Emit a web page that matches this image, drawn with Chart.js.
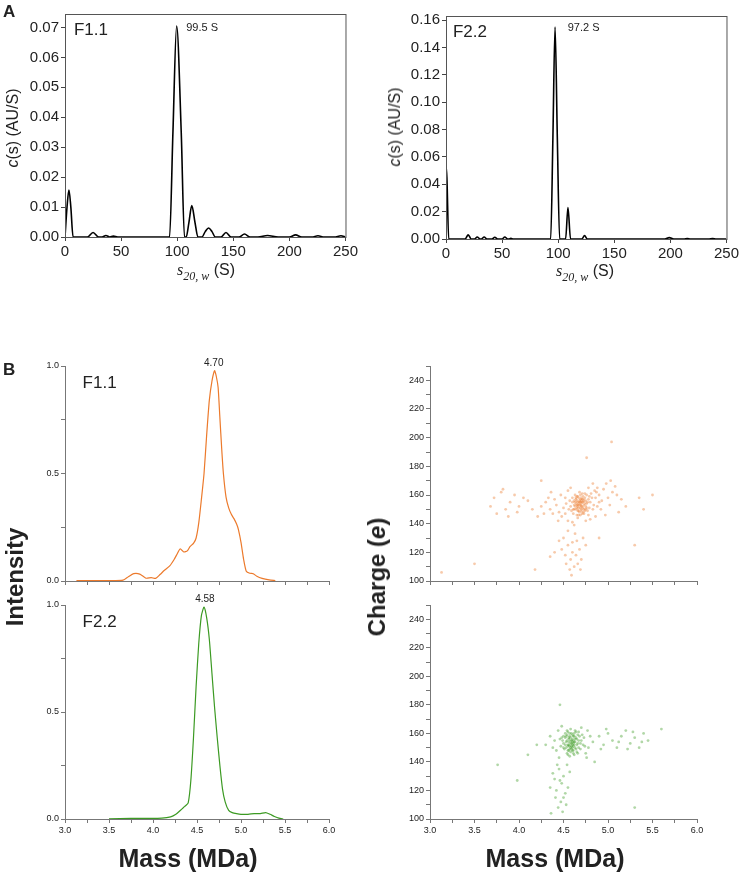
<!DOCTYPE html>
<html>
<head>
<meta charset="utf-8">
<script src="https://cdn.jsdelivr.net/npm/chart.js@4.4.0/dist/chart.umd.min.js"></script>
<style>
body { margin: 0; background: #fff; font-family: 'Liberation Sans', Arial, sans-serif; color: #222; }
#page { position: relative; width: 741px; height: 875px; overflow: hidden; }
canvas { position: absolute; }
.t { position: absolute; white-space: nowrap; line-height: 1; }
.rot { transform: translate(-50%, -50%) rotate(-90deg); }
.ctr { transform: translate(-50%, -50%); }
.sv { font-family: 'Liberation Serif', 'DejaVu Serif', serif; font-style: italic; }
.big { font-weight: bold; font-size: 24px; }
</style>
</head>
<body>
<div id="page">
  <canvas id="csF11" width="360" height="285" style="left:0;top:0"></canvas>
  <canvas id="csF22" width="371" height="285" style="left:370px;top:0"></canvas>
  <canvas id="massF11" width="360" height="240" style="left:0;top:350px"></canvas>
  <canvas id="massF22" width="360" height="285" style="left:0;top:590px"></canvas>
  <canvas id="czF11" width="381" height="240" style="left:360px;top:350px"></canvas>
  <canvas id="czF22" width="381" height="285" style="left:360px;top:590px"></canvas>

  <div class="t" style="left:3px;top:3px;font-weight:bold;font-size:17px">A</div>
  <div class="t" style="left:3px;top:361px;font-weight:bold;font-size:17px">B</div>

  <div class="t rot" style="left:13px;top:128px;font-size:16px"><i>c</i>(s) (AU/S)</div>
  <div class="t ctr" style="left:206px;top:272px;font-size:16px"><span class="sv">s</span><sub class="sv" style="font-size:12px">20, w</sub> (S)</div>
  <div class="t rot" style="left:395px;top:127px;font-size:16px"><i>c</i>(s) (AU/S)</div>
  <div class="t ctr" style="left:585px;top:273px;font-size:16px"><span class="sv">s</span><sub class="sv" style="font-size:12px">20, w</sub> (S)</div>

  <div class="t rot big" style="left:15px;top:577px">Intensity</div>
  <div class="t rot big" style="left:377px;top:577px">Charge (<i>e</i>)</div>
  <div class="t ctr big" style="left:188px;top:858px;font-size:25px">Mass (MDa)</div>
  <div class="t ctr big" style="left:555px;top:858px;font-size:25px">Mass (MDa)</div>
</div>

<script>
// c(s) distributions (sedimentation coefficient in S, c(s) in AU/S)
const sF11 = [0, 1.8, 3.5, 5.2, 7.2, 20, 25, 30, 33, 36.5, 40, 43, 47, 90, 93.2, 96.2, 99.5, 103.6, 106.5, 108, 110.5, 113, 115.8, 118.5, 122, 125, 128, 131, 134, 139, 143.5, 148, 155, 160, 165, 172, 180.5, 190, 200, 205.5, 211, 220, 225.5, 231, 240, 246, 250];
const cF11 = [0, 0.010, 0.0157, 0.010, 0, 0, 0.0015, 0, 0, 0.0005, 0, 0.0003, 0, 0, 0, 0.035, 0.0705, 0.035, 0, 0, 0.005, 0.0105, 0.005, 0, 0, 0.0018, 0.003, 0.0018, 0, 0, 0.0015, 0, 0, 0.001, 0, 0, 0.0005, 0, 0, 0.0007, 0, 0, 0.0004, 0, 0, 0.0004, 0];

const sF22 = [0, 0.8, 2.4, 17, 19.8, 22.5, 25.5, 27.8, 30.5, 31.5, 34, 36.5, 41, 43.5, 46, 50, 52.4, 55, 56, 57.8, 60, 93.3, 95.3, 97.2, 99.2, 101.3, 106.6, 108.7, 111, 121, 123.5, 126, 195, 199, 203, 212, 215, 218, 234, 237.6, 241, 250];
const cF22 = [0.053, 0.045, 0, 0, 0.003, 0, 0, 0.0015, 0, 0, 0.0015, 0, 0, 0.0013, 0, 0, 0.0015, 0, 0, 0.0005, 0, 0, 0.075, 0.155, 0.075, 0, 0, 0.023, 0, 0, 0.0025, 0, 0, 0.001, 0, 0, 0.0003, 0, 0, 0.0003, 0, 0];

// Mass spectra (MDa, normalised intensity)
const mF11 = [3.13, 3.30, 3.50, 3.66, 3.72, 3.78, 3.85, 3.92, 3.98, 4.03, 4.08, 4.13, 4.19, 4.24, 4.28, 4.31, 4.35, 4.39, 4.42, 4.46, 4.49, 4.52, 4.55, 4.58, 4.61, 4.64, 4.67, 4.70, 4.72, 4.74, 4.76, 4.78, 4.80, 4.83, 4.86, 4.89, 4.92, 4.95, 4.97, 5.00, 5.03, 5.06, 5.10, 5.14, 5.18, 5.24, 5.32, 5.39];
const iF11 = [0.002, 0.002, 0.002, 0.004, 0.02, 0.034, 0.032, 0.013, 0.016, 0.012, 0.03, 0.05, 0.07, 0.10, 0.13, 0.15, 0.135, 0.14, 0.16, 0.175, 0.20, 0.27, 0.38, 0.50, 0.68, 0.84, 0.93, 0.978, 0.95, 0.90, 0.76, 0.62, 0.50, 0.39, 0.34, 0.31, 0.29, 0.265, 0.24, 0.18, 0.10, 0.045, 0.036, 0.034, 0.022, 0.012, 0.005, 0.002];

const mF22 = [3.50, 3.75, 3.95, 4.10, 4.20, 4.26, 4.31, 4.35, 4.37, 4.40, 4.43, 4.46, 4.49, 4.52, 4.55, 4.58, 4.61, 4.64, 4.67, 4.70, 4.73, 4.76, 4.79, 4.82, 4.86, 4.90, 4.95, 5.00, 5.08, 5.15, 5.22, 5.28, 5.33, 5.38, 5.43, 5.48];
const iF22 = [0.001, 0.003, 0.003, 0.004, 0.01, 0.022, 0.04, 0.055, 0.062, 0.075, 0.18, 0.38, 0.62, 0.82, 0.95, 0.99, 0.94, 0.84, 0.68, 0.52, 0.38, 0.25, 0.14, 0.08, 0.04, 0.03, 0.025, 0.022, 0.022, 0.025, 0.025, 0.03, 0.022, 0.012, 0.004, 0];

// Charge vs mass single-particle points [MDa, e]
const czF11 = [
  [4.62,150],[4.65,153],[4.68,156],[4.70,152],[4.72,155],[4.66,149],[4.74,158],[4.69,160],[4.71,147],[4.64,157],
  [4.67,151],[4.73,150],[4.76,154],[4.60,155],[4.63,160],[4.78,157],[4.70,154],[4.68,148],[4.75,152],[4.66,155],
  [4.72,159],[4.59,149],[4.80,155],[4.65,146],[4.71,157],[4.69,151],[4.62,153],[4.77,149],[4.74,161],[4.67,158],
  [4.58,152],[4.82,158],[4.70,156],[4.64,150],[4.73,153],[4.68,162],[4.61,147],[4.79,151],[4.66,153],[4.72,148],
  [4.69,155],[4.75,156],[4.63,155],[4.71,152],[4.67,146],[4.76,160],[4.57,156],[4.84,153],[4.70,149],[4.65,159],
  [4.66,152],[4.69,157],[4.72,151],[4.64,154],[4.70,158],[4.67,149],[4.73,156],[4.68,153],[4.75,150],[4.62,156],
  [4.71,161],[4.65,151],[4.77,155],[4.69,146],[4.63,152],[4.74,154],[4.66,159],[4.70,150],[4.72,157],[4.68,155],
  [4.61,150],[4.79,159],[4.67,154],[4.73,147],[4.64,158],[4.71,155],[4.76,151],[4.69,153],[4.65,156],[4.74,149],
  [4.81,161],[4.86,158],[4.83,150],[4.60,158],[4.56,150],[4.78,146],[4.90,155],[4.53,154],[4.87,162],[4.66,144],
  [4.35,150],[4.42,153],[4.48,145],[4.52,158],[4.45,148],[4.30,155],[4.55,142],[4.50,151],[4.40,157],[4.25,152],
  [4.90,160],[4.95,164],[5.00,158],[4.88,165],[5.05,162],[4.92,150],[4.98,168],[5.10,160],[4.86,145],[5.02,153],
  [4.85,163],[5.15,157],[4.80,143],[4.60,141],[4.55,163],[4.38,147],[4.47,160],[4.93,156],[5.08,166],[4.83,168],
  [4.33,158],[4.28,147],[4.58,165],[4.88,152],[5.20,152],[4.44,142],[5.12,148],[4.97,146],[4.62,139],[4.75,142],
  [4.21,145],[4.36,162],[4.52,147],[4.78,165],[5.03,170],
  [3.72,158],[3.80,162],[3.85,150],[3.90,155],[3.75,147],[3.95,160],[4.00,152],[3.88,145],[3.68,152],[4.05,158],
  [3.82,164],[3.98,148],[4.10,156],[4.15,150],
  [4.50,130],[4.55,125],[4.60,120],[4.58,115],[4.65,128],[4.62,110],[4.52,118],[4.68,122],[4.57,108],[4.63,133],
  [4.48,122],[4.70,115],[4.55,135],[4.66,112],[4.60,127],[4.53,112],[4.72,130],[4.45,128],[4.59,104],[4.64,118],
  [4.40,120],[4.75,125],[4.35,117],[4.69,108],
  [5.04,197],[4.76,186],[3.13,106],[3.50,112],[4.18,108],[5.40,150],[5.50,160],[5.30,125],[4.90,130],[4.25,170],[5.35,158]
];
const czF22 = [
  [4.55,152],[4.58,155],[4.61,158],[4.60,150],[4.63,154],[4.52,157],[4.57,149],[4.65,156],[4.59,160],[4.54,146],
  [4.62,152],[4.56,154],[4.67,150],[4.50,153],[4.60,156],[4.64,161],[4.53,150],[4.58,147],[4.66,153],[4.61,148],
  [4.57,158],[4.49,155],[4.70,155],[4.55,161],[4.62,145],[4.59,153],[4.68,158],[4.51,149],[4.63,150],[4.56,156],
  [4.60,152],[4.54,159],[4.65,147],[4.47,151],[4.72,152],[4.58,163],[4.61,155],[4.53,154],[4.67,161],[4.57,144],
  [4.59,151],[4.64,157],[4.50,158],[4.62,160],[4.56,148],[4.69,149],[4.46,156],[4.60,154],[4.55,151],[4.73,157],
  [4.58,153],[4.61,151],[4.56,157],[4.63,156],[4.59,149],[4.54,155],[4.62,158],[4.57,151],[4.65,152],[4.60,159],
  [4.52,152],[4.64,149],[4.58,157],[4.61,146],[4.55,148],[4.67,155],[4.59,155],[4.53,158],[4.62,154],[4.57,160],
  [4.66,159],[4.50,150],[4.60,148],[4.63,162],[4.56,152],[4.69,153],[4.54,162],[4.58,150],[4.48,157],[4.71,159],
  [4.61,153],[4.55,145],[4.66,146],[4.52,160],[4.74,151],
  [4.42,148],[4.40,155],[4.78,150],[4.80,158],[4.75,146],[4.44,162],[4.38,150],[4.77,162],[4.45,143],[4.83,154],
  [4.35,158],[4.70,164],[4.48,165],[4.76,143],[4.30,152],
  [4.90,158],[4.95,152],[5.00,160],[5.05,155],[5.10,150],[5.15,158],[5.20,162],[5.25,153],[5.30,157],[5.35,150],
  [5.40,160],[5.45,155],[4.98,163],[5.12,154],[5.22,149],[5.28,161],[5.38,154],[4.92,149],
  [4.45,135],[4.50,130],[4.48,125],[4.42,120],[4.52,118],[4.47,112],[4.40,128],[4.55,122],[4.44,108],[4.50,115],
  [4.38,132],[4.53,110],[4.46,127],[4.41,115],[4.57,133],[4.49,105],[4.35,122],[4.54,138],[4.43,138],[4.36,104],
  [4.46,180],[3.98,127],[3.76,138],[4.10,145],[5.30,108],[4.85,140],[5.60,163],[4.20,152]
];

const FONT = "'Liberation Sans', Arial, sans-serif";
const ORANGE = '#ec7a2c';
const GREEN = '#3c9a23';

function pairs(xs, ys) { return xs.map((x, i) => ({ x: x, y: ys[i] })); }
function isStep(v, step) { return Math.abs(v / step - Math.round(v / step)) < 1e-6; }

// text labels + optional frame drawn on top of each chart
const notesPlugin = {
  id: 'notes',
  afterDraw(chart, args, opts) {
    const ctx = chart.ctx, xs = chart.scales.x, ys = chart.scales.y, a = chart.chartArea;
    if (opts.frame) {
      ctx.save();
      ctx.strokeStyle = '#555';
      ctx.lineWidth = 1;
      ctx.strokeRect(a.left + 0.5, a.top + 0.5, a.right - a.left, a.bottom - a.top);
      ctx.restore();
    }
    (opts.items || []).forEach(n => {
      ctx.save();
      ctx.font = n.font;
      ctx.fillStyle = '#222';
      ctx.textAlign = n.align || 'left';
      ctx.textBaseline = 'middle';
      ctx.fillText(n.text, xs.getPixelForValue(n.x), ys.getPixelForValue(n.y));
      ctx.restore();
    });
  }
};

function axis(min, max, step, size, fmt, fit, horizontal, color) {
  return {
    type: 'linear', min: min, max: max,
    grid: { display: true, drawOnChartArea: false, drawTicks: true, tickLength: 4, color: color || '#444' },
    border: { display: true, color: color || '#444', width: 1 },
    ticks: {
      stepSize: step, includeBounds: false, autoSkip: false, maxRotation: 0, padding: 2,
      color: '#222', font: { family: FONT, size: size }, callback: fmt
    },
    afterFit: s => { if (horizontal) s.height = fit; else s.width = fit; }
  };
}

function baseOptions(padding, scales, notes) {
  return {
    responsive: false, animation: false, devicePixelRatio: 1,
    layout: { padding: padding },
    plugins: { legend: { display: false }, tooltip: { enabled: false }, notes: notes },
    scales: scales
  };
}

// A: c(s) F1.1
new Chart(document.getElementById('csF11'), {
  type: 'line',
  data: { datasets: [{ data: pairs(sF11, cF11), borderColor: '#000', borderWidth: 1.6, pointRadius: 0, cubicInterpolationMode: 'monotone', fill: false }] },
  options: baseOptions({ top: 14, right: 13, left: 0, bottom: 0 }, {
    x: axis(0, 250, 50, 15, v => v, 48, true),
    y: axis(0, 0.0745, 0.01, 15, v => v.toFixed(2), 65)
  }, { frame: true, items: [
    { text: 'F1.1', x: 8, y: 0.0692, font: '17px ' + FONT },
    { text: '99.5 S', x: 108, y: 0.0698, font: '11px ' + FONT }
  ] }),
  plugins: [notesPlugin]
});

// A: c(s) F2.2
new Chart(document.getElementById('csF22'), {
  type: 'line',
  data: { datasets: [{ data: pairs(sF22, cF22), borderColor: '#000', borderWidth: 1.6, pointRadius: 0, cubicInterpolationMode: 'monotone', fill: false }] },
  options: baseOptions({ top: 16, right: 14, left: 0, bottom: 0 }, {
    x: axis(0, 250, 50, 15, v => v, 46, true),
    y: axis(0, 0.163, 0.02, 15, v => v.toFixed(2), 76)
  }, { frame: true, items: [
    { text: 'F2.2', x: 6.2, y: 0.1513, font: '17px ' + FONT },
    { text: '97.2 S', x: 108.5, y: 0.1542, font: '11px ' + FONT }
  ] }),
  plugins: [notesPlugin]
});

const massTick = v => isStep(v, 0.5) ? v.toFixed(1) : '';
const intTick = v => isStep(v, 0.5) ? v.toFixed(1) : '';

// B: mass spectrum F1.1
new Chart(document.getElementById('massF11'), {
  type: 'line',
  data: { datasets: [{ data: pairs(mF11, iF11), borderColor: ORANGE, borderWidth: 1.2, pointRadius: 0, tension: 0.2, fill: false }] },
  options: baseOptions({ top: 16, right: 31, left: 0, bottom: 0 }, {
    x: axis(3, 6, 0.25, 9, () => '', 9, true, '#777'),
    y: axis(0, 1, 0.25, 9, intTick, 65, false, '#777')
  }, { items: [
    { text: 'F1.1', x: 3.2, y: 0.921, font: '17px ' + FONT },
    { text: '4.70', x: 4.69, y: 1.015, font: '10px ' + FONT, align: 'center' }
  ] }),
  plugins: [notesPlugin]
});

// B: mass spectrum F2.2
new Chart(document.getElementById('massF22'), {
  type: 'line',
  data: { datasets: [{ data: pairs(mF22, iF22), borderColor: GREEN, borderWidth: 1.2, pointRadius: 0, tension: 0.2, fill: false }] },
  options: baseOptions({ top: 15, right: 31, left: 0, bottom: 0 }, {
    x: axis(3, 6, 0.25, 9, massTick, 56, true, '#777'),
    y: axis(0, 1, 0.25, 9, intTick, 65, false, '#777')
  }, { items: [
    { text: 'F2.2', x: 3.2, y: 0.92, font: '17px ' + FONT },
    { text: '4.58', x: 4.59, y: 1.028, font: '10px ' + FONT, align: 'center' }
  ] }),
  plugins: [notesPlugin]
});

const chargeTick = v => isStep(v, 20) ? v : '';

// B: charge vs mass F1.1
new Chart(document.getElementById('czF11'), {
  type: 'scatter',
  data: { datasets: [{ data: czF11.map(p => ({ x: p[0], y: p[1] })), backgroundColor: 'rgba(236,122,44,0.4)', borderWidth: 0, pointRadius: 1.4 }] },
  options: baseOptions({ top: 16, right: 44, left: 0, bottom: 0 }, {
    x: axis(3, 6, 0.25, 9, () => '', 9, true, '#777'),
    y: axis(100, 250, 10, 9, chargeTick, 70, false, '#777')
  }, {}),
  plugins: [notesPlugin]
});

// B: charge vs mass F2.2
new Chart(document.getElementById('czF22'), {
  type: 'scatter',
  data: { datasets: [{ data: czF22.map(p => ({ x: p[0], y: p[1] })), backgroundColor: 'rgba(60,154,35,0.4)', borderWidth: 0, pointRadius: 1.4 }] },
  options: baseOptions({ top: 15, right: 44, left: 0, bottom: 0 }, {
    x: axis(3, 6, 0.25, 9, massTick, 56, true, '#777'),
    y: axis(100, 250, 10, 9, chargeTick, 70, false, '#777')
  }, {}),
  plugins: [notesPlugin]
});
</script>
</body>
</html>
